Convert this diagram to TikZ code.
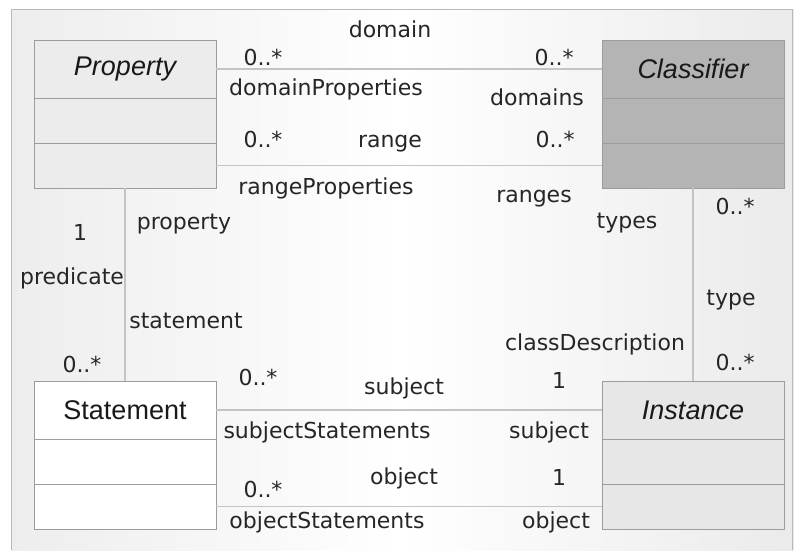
\documentclass[tikz,border=0pt]{standalone}
\usepackage{fontspec}
\setmainfont{DejaVu Sans}
\newfontfamily\classfont{Liberation Sans}
\usetikzlibrary{positioning}

\definecolor{linegray}{HTML}{C4C4C4}
\definecolor{boxline}{HTML}{9C9C9C}
\definecolor{propfill}{HTML}{ECECEC}
\definecolor{clsfill}{HTML}{B4B4B4}
\definecolor{instfill}{HTML}{E7E7E7}

\begin{document}
\begin{tikzpicture}[x=1pt,y=-1pt,
    title/.style={draw=boxline, minimum width=182pt, minimum height=58pt, inner sep=0pt, outer sep=0pt,
                  text=black!90, font=\classfont\fontsize{27}{30}\selectfont},
    comp/.style={draw=boxline, minimum width=182pt, minimum height=45pt, inner sep=0pt, outer sep=0pt, below=0pt of #1},
    role/.style={inner sep=0pt, text=black!85, text height=16pt, text depth=4pt, font=\fontsize{22}{26}\selectfont},
    assoc/.style={draw=linegray, line width=1.2pt}]
    \useasboundingbox (0,0) rectangle (794,550);
    % background
    \shade[left color=gray!14, right color=gray!16, middle color=white] (11,9) rectangle (794,550);
    \draw[gray!55] (11,550) -- (11,9) -- (792,9) -- (792,550);

    % classes
    \node[title, fill=propfill] (propname) at (125,69) {\itshape Property};
    \node[comp=propname, fill=propfill] (propattr) {};
    \node[comp=propattr, fill=propfill] (propops) {};

    \node[title, fill=clsfill] (clsname) at (693,69) {\itshape Classifier};
    \node[comp=clsname, fill=clsfill] (clsattr) {};
    \node[comp=clsattr, fill=clsfill] (clsops) {};

    \node[title, fill=white] (stmname) at (125,410) {Statement};
    \node[comp=stmname, fill=white] (stmattr) {};
    \node[comp=stmattr, fill=white] (stmops) {};

    \node[title, fill=instfill] (instname) at (693,410) {\itshape Instance};
    \node[comp=instname, fill=instfill] (instattr) {};
    \node[comp=instattr, fill=instfill] (instops) {};

    % associations
    \draw[assoc] (propname.east) -- (clsname.west);
    \draw[assoc] (propops.east) -- (clsops.west);
    \draw[assoc] (propops.south) -- (stmname.north);
    \draw[assoc] (clsops.south) -- (instname.north);
    \draw[assoc] (stmname.east) -- (instname.west);
    \draw[assoc] (stmops.east) -- (instops.west);

    % domain / range
    \node[role] (domain) at (390,31) {domain};
    \node[role] (domainmultl) at (263,59) {0..*};
    \node[role] (domainmultr) at (554,59) {0..*};
    \node[role] (domainprops) at (326,89) {domainProperties};
    \node[role] (domains) at (537,99) {domains};
    \node[role] (rangemultl) at (263,141) {0..*};
    \node[role] (range) at (390,141) {range};
    \node[role] (rangemultr) at (555,141) {0..*};
    \node[role] (rangeprops) at (326,188) {rangeProperties};
    \node[role] (ranges) at (534,196) {ranges};

    % predicate
    \node[role] (predmult) at (80,234) {1};
    \node[role] (property) at (184,223) {property};
    \node[role] (predicate) at (72,278) {predicate};
    \node[role] (statement) at (186,322) {statement};
    \node[role] (stmmult) at (82,366) {0..*};

    % type
    \node[role] (types) at (627,222) {types};
    \node[role] (typesmult) at (735,208) {0..*};
    \node[role] (type) at (731,299) {type};
    \node[role] (classdesc) at (595,344) {classDescription};
    \node[role] (typemult) at (735,364) {0..*};

    % subject / object
    \node[role] (subjmultl) at (258,379) {0..*};
    \node[role] (subject) at (404,388) {subject};
    \node[role] (subjmultr) at (559,382) {1};
    \node[role] (subjstms) at (327,432) {subjectStatements};
    \node[role] (subjend) at (549,432) {subject};
    \node[role] (object) at (404,478) {object};
    \node[role] (objmultr) at (559,479) {1};
    \node[role] (objmultl) at (263,491) {0..*};
    \node[role] (objstms) at (327,522) {objectStatements};
    \node[role] (objend) at (556,522) {object};
\end{tikzpicture}
\end{document}
